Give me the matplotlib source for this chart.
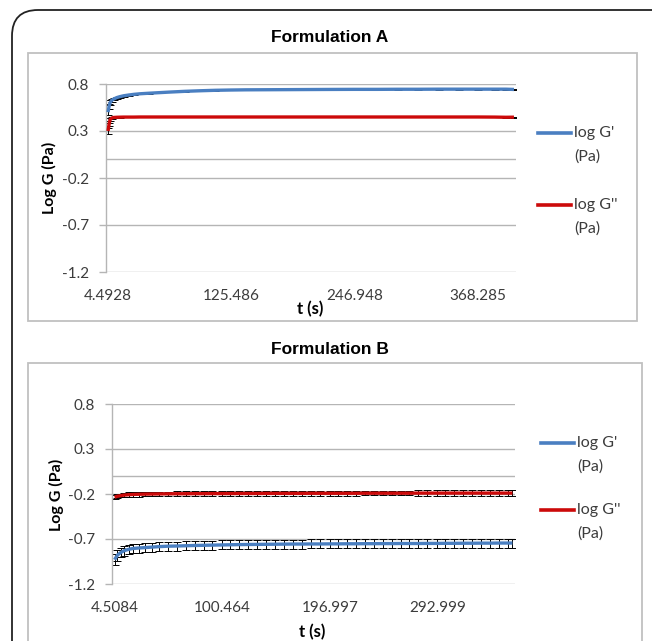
import matplotlib
matplotlib.use("Agg")
import matplotlib.pyplot as plt
from matplotlib.patches import FancyBboxPatch, Rectangle
from matplotlib.lines import Line2D

# ---------------- data ----------------
# Formulation A
tA = [4.4928, 5.5, 6.5, 8, 10, 13, 16, 20, 25, 30, 36, 45, 55, 65, 80, 95, 110,
      125.486, 140, 160, 180, 200, 220, 246.948, 270, 290, 310, 330, 350,
      368.285, 385, 396, 404]
gA_p = [0.50, 0.56, 0.60, 0.625, 0.64, 0.655, 0.665, 0.675, 0.683, 0.69, 0.696,
        0.702, 0.708, 0.714, 0.722, 0.728, 0.733, 0.736, 0.738, 0.739, 0.740,
        0.741, 0.742, 0.743, 0.743, 0.744, 0.744, 0.745, 0.745, 0.745, 0.745,
        0.745, 0.742]
gA_pp = [0.30, 0.37, 0.42, 0.438, 0.444, 0.446, 0.447, 0.448, 0.448, 0.448, 0.449,
         0.449, 0.449, 0.449, 0.449, 0.449, 0.449, 0.449, 0.449, 0.449, 0.449,
         0.449, 0.449, 0.449, 0.449, 0.449, 0.449, 0.449, 0.449, 0.449, 0.448,
         0.446, 0.447]
eA_p = [0.03, 0.03, 0.025, 0.02, 0.015, 0.01, 0.01, 0.008, 0.006, 0.005, 0.005,
        0.005, 0.004, 0.004, 0.004, 0.004, 0.004, 0.004, 0.004, 0.004, 0.004,
        0.004, 0.004, 0.004, 0.004, 0.004, 0.004, 0.004, 0.004, 0.004, 0.004,
        0.004, 0.006]
eA_pp = [0.03, 0.02, 0.015, 0.01, 0.006, 0.005, 0.004, 0.004, 0.004, 0.004, 0.004,
         0.004, 0.004, 0.004, 0.004, 0.004, 0.004, 0.004, 0.004, 0.004, 0.004,
         0.004, 0.004, 0.004, 0.004, 0.004, 0.004, 0.004, 0.004, 0.004, 0.004,
         0.004, 0.006]
ticksA = [4.4928, 125.486, 246.948, 368.285]
tick_labelsA = ["4.4928", "125.486", "246.948", "368.285"]

# Formulation B
tB = [4.5084, 7, 10, 13, 17, 21, 26, 32, 38, 44, 52, 60, 68, 76, 84, 92,
      100.464, 108, 116, 124, 132, 140, 148, 156, 164, 172, 180, 188, 196.997,
      204, 212, 220, 228, 236, 244, 252, 260, 268, 276, 284, 292.999, 300, 308,
      316, 324, 332, 340, 348, 356, 360]
gB_p = [-0.93, -0.88, -0.85, -0.83, -0.815, -0.805, -0.80, -0.795, -0.79, -0.785,
        -0.78, -0.778, -0.775, -0.772, -0.77, -0.768, -0.766, -0.764, -0.762,
        -0.761, -0.76, -0.759, -0.758, -0.757, -0.756, -0.756, -0.755, -0.755,
        -0.754, -0.754, -0.753, -0.753, -0.752, -0.752, -0.751, -0.751, -0.75,
        -0.75, -0.75, -0.749, -0.749, -0.748, -0.748, -0.747, -0.747, -0.746,
        -0.746, -0.745, -0.745, -0.745]
gB_pp = [-0.235, -0.225, -0.218, -0.212, -0.208, -0.205, -0.203, -0.201, -0.2,
         -0.199, -0.198, -0.197, -0.197, -0.196, -0.196, -0.195, -0.195, -0.195,
         -0.194, -0.194, -0.194, -0.193, -0.193, -0.193, -0.193, -0.193, -0.192,
         -0.192, -0.192, -0.192, -0.192, -0.192, -0.191, -0.191, -0.191, -0.191,
         -0.191, -0.191, -0.19, -0.19, -0.19, -0.19, -0.19, -0.19, -0.19, -0.19,
         -0.19, -0.19, -0.19, -0.19]
eB_p = [0.06, 0.06, 0.055, 0.055, 0.05, 0.05, 0.05, 0.05, 0.05, 0.05, 0.05, 0.05,
        0.05, 0.05, 0.05, 0.05, 0.05, 0.05, 0.05, 0.05, 0.05, 0.05, 0.05, 0.05,
        0.05, 0.05, 0.05, 0.05, 0.05, 0.05, 0.05, 0.05, 0.05, 0.05, 0.05, 0.05,
        0.05, 0.05, 0.05, 0.05, 0.05, 0.05, 0.05, 0.05, 0.05, 0.05, 0.05, 0.05,
        0.05, 0.05]
eB_pp = [0.02, 0.02, 0.02, 0.025, 0.025, 0.025, 0.025, 0.025, 0.025, 0.025, 0.025,
         0.025, 0.025, 0.025, 0.025, 0.025, 0.025, 0.025, 0.025, 0.025, 0.025,
         0.025, 0.025, 0.025, 0.025, 0.025, 0.025, 0.025, 0.025, 0.025, 0.025,
         0.025, 0.025, 0.025, 0.025, 0.025, 0.025, 0.025, 0.03, 0.03, 0.03, 0.03,
         0.03, 0.03, 0.03, 0.03, 0.03, 0.03, 0.03, 0.03]
ticksB = [4.5084, 100.464, 196.997, 292.999]
tick_labelsB = ["4.5084", "100.464", "196.997", "292.999"]

yticks = [-1.2, -0.7, -0.2, 0.3, 0.8]
ytick_labels = ["-1.2", "-0.7", "-0.2", "0.3", "0.8"]
legend_labels = [("log G'", "(Pa)"), ("log G''", "(Pa)")]

# ---------------- style ----------------
W, H = 652, 641
BLUE = "#4a7fc1"
RED = "#cc0a0a"
GRID = "#b5b5b5"
TXT = "#3c3c3c"
TICKFONT = "Lato"
fig = plt.figure(figsize=(W / 100, H / 100), dpi=100)


def fx(x):
    return x / W


def fy(y):
    return 1 - y / H


# outer rounded frame
fig.patches.append(FancyBboxPatch((0.12, -0.5), 6.7, 6.81,
                                  boxstyle="round,pad=0,rounding_size=0.26",
                                  transform=fig.dpi_scale_trans, fill=False,
                                  edgecolor="#222222", linewidth=1.3))
# chart boxes
fig.patches.append(Rectangle((0.28, (H - 321) / 100), 6.09, 2.68,
                             transform=fig.dpi_scale_trans, fill=False,
                             edgecolor="#c0c0c0", linewidth=1.3))
fig.patches.append(Rectangle((0.28, -0.5), 6.14, (H - 363) / 100 + 0.5,
                             transform=fig.dpi_scale_trans, fill=False,
                             edgecolor="#c0c0c0", linewidth=1.3))


def make_chart(rect, t, gp, gpp, ep, epp, ticks, tlabels, xlim, title_xy,
               ylab_xy, xlab_xy, leg_y, leg_x):
    ax = fig.add_axes(rect)
    ax.set_xlim(*xlim)
    ax.set_ylim(-1.2, 0.8)
    ax.set_yticks(yticks)
    ax.set_yticklabels(ytick_labels)
    ax.set_xticks(ticks)
    ax.set_xticklabels(tlabels)
    for s in ["top", "right", "bottom"]:
        ax.spines[s].set_visible(False)
    ax.spines["left"].set_color(GRID)
    ax.spines["left"].set_linewidth(1.0)
    ax.yaxis.grid(True, color=GRID, linewidth=1.0)
    ax.set_axisbelow(True)
    ax.axhline(0, color=GRID, linewidth=1.0, zorder=0.5)
    ax.tick_params(axis="y", length=5, width=1.0, color=GRID, pad=7,
                   labelsize=11, labelcolor=TXT)
    ax.tick_params(axis="x", length=0, pad=12, labelsize=11, labelcolor=TXT)
    for lab in ax.get_xticklabels() + ax.get_yticklabels():
        lab.set_fontfamily(TICKFONT)
    ax.errorbar(t, gpp, yerr=epp, fmt="none", ecolor="black", elinewidth=0.7,
                capsize=2.6, capthick=0.7, zorder=2)
    ax.errorbar(t, gp, yerr=ep, fmt="none", ecolor="black", elinewidth=0.7,
                capsize=2.6, capthick=0.7, zorder=2)
    ax.plot(t, gp, color=BLUE, linewidth=2.4, zorder=3, solid_capstyle="butt")
    ax.plot(t, gpp, color=RED, linewidth=2.4, zorder=3, solid_capstyle="butt")
    fig.text(fx(title_xy[0]), fy(title_xy[1]), title_xy[2], ha="center",
             va="center", fontsize=12.5, fontweight="bold",
             family="Liberation Sans", color="black")
    fig.text(fx(ylab_xy[0]), fy(ylab_xy[1]), "Log G (Pa)", ha="center",
             va="center", rotation=90, fontsize=11.5, fontweight="bold",
             family="Lato", color="black")
    fig.text(fx(xlab_xy[0]), fy(xlab_xy[1]), "t (s)", ha="center",
             va="center", fontsize=12, fontweight="bold", family="Lato",
             color="black")
    for ly, col, (l1, l2) in zip(leg_y, [BLUE, RED], legend_labels):
        fig.add_artist(Line2D([fx(leg_x), fx(leg_x + 33)], [fy(ly), fy(ly)],
                              color=col, linewidth=2.6,
                              transform=fig.transFigure))
        fig.text(fx(leg_x + 36), fy(ly), l1, ha="left", va="center",
                 fontsize=11.5, family="Lato", color=TXT)
        fig.text(fx(leg_x + 36), fy(ly + 24), l2, ha="left", va="center",
                 fontsize=11.5, family="Lato", color=TXT)
    return ax


make_chart([fx(106), fy(272), (516 - 106) / W, (272 - 84) / H],
           tA, gA_p, gA_pp, eA_p, eA_pp, ticksA, tick_labelsA, (2.5, 406),
           (330, 38, "Formulation A"), (49, 178), (310, 309), (133, 205), 538)
make_chart([fx(112), fy(584), (515 - 112) / W, (584 - 404) / H],
           tB, gB_p, gB_pp, eB_p, eB_pp, ticksB, tick_labelsB, (2.2, 362.3),
           (330, 349, "Formulation B"), (56, 495), (312, 632), (443, 510), 541)

fig.savefig("out.png", dpi=100)
